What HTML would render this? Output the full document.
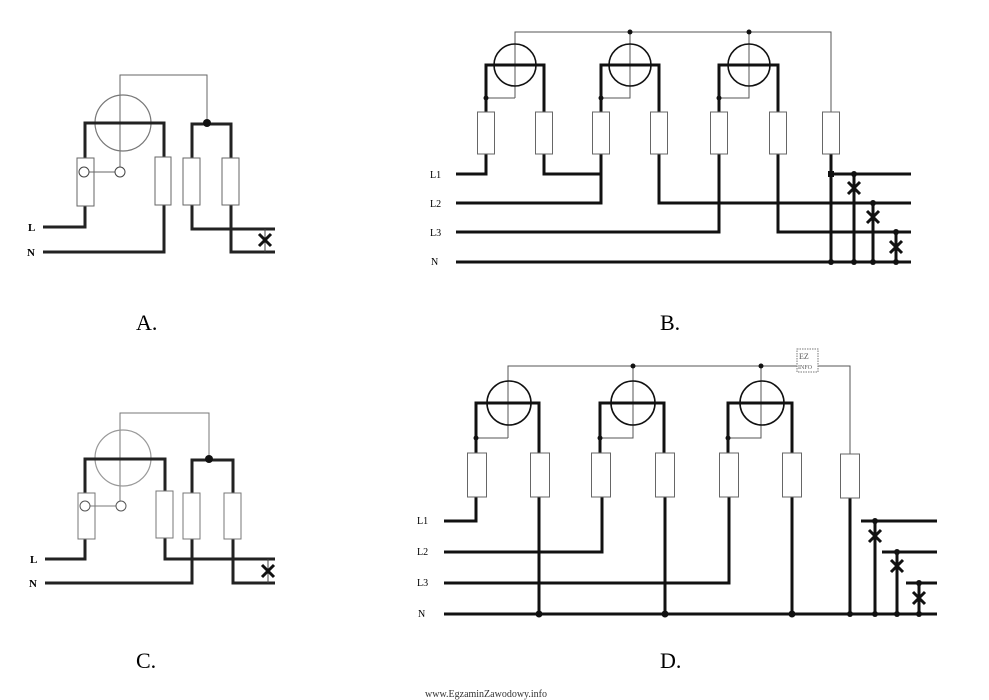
<!DOCTYPE html>
<html><head><meta charset="utf-8"><style>
html,body{margin:0;padding:0;background:#fff}
svg{display:block}
text{font-family:"Liberation Serif",serif}
</style></head><body>
<svg width="989" height="700" viewBox="0 0 989 700" xmlns="http://www.w3.org/2000/svg">
<defs>
<g id="x"><path d="M-6,-6 L6,6 M6,-6 L-6,6" stroke="#111" stroke-width="3"/></g>
</defs>
<!-- A -->
<g fill="none">
<polyline points="120,167 120,75 207,75 207,123" stroke="#666" stroke-width="1"/>
<circle cx="123" cy="123" r="28" stroke="#777" stroke-width="1.2"/>
<path d="M43,227 H85 V206 M85,158 V123 H164 V157 M164,205 V252 H43 M192,158 V124 H231 V158 M192,205 V229 H275 M231,205 V252 H275" stroke="#222" stroke-width="3"/>
<g stroke="#666" stroke-width="1" fill="#fff">
<rect x="77" y="158" width="17" height="48"/><rect x="155" y="157" width="16" height="48"/>
<rect x="183" y="158" width="17" height="47"/><rect x="222" y="158" width="17" height="47"/>
</g>
<line x1="89" y1="172" x2="115" y2="172" stroke="#666"/>
<circle cx="84" cy="172" r="5" stroke="#444" fill="#fff"/><circle cx="120" cy="172" r="5" stroke="#444" fill="#fff"/>
<line x1="265" y1="229" x2="265" y2="252" stroke="#444"/>
</g>
<circle cx="207" cy="123" r="4" fill="#111"/>
<use href="#x" x="265" y="240"/>
<text x="28" y="231" font-size="11" font-weight="bold">L</text>
<text x="27" y="256" font-size="11" font-weight="bold">N</text>
<!-- C -->
<g fill="none">
<polyline points="120,506 120,413 209,413 209,459" stroke="#777" stroke-width="1"/>
<circle cx="123" cy="458" r="28" stroke="#999" stroke-width="1.2"/>
<path d="M45,559 H85 V539 M85,493 V459 H165 V491 M165,538 V559 H275 M192,493 V460 H233 V493 M192,539 V583 H45 M233,539 V583 H275" stroke="#222" stroke-width="3"/>
<g stroke="#777" stroke-width="1" fill="#fff">
<rect x="78" y="493" width="17" height="46"/><rect x="156" y="491" width="17" height="47"/>
<rect x="183" y="493" width="17" height="46"/><rect x="224" y="493" width="17" height="46"/>
</g>
<line x1="90" y1="506" x2="116" y2="506" stroke="#777"/>
<circle cx="85" cy="506" r="5" stroke="#555" fill="#fff"/><circle cx="121" cy="506" r="5" stroke="#555" fill="#fff"/>
<line x1="268" y1="559" x2="268" y2="583" stroke="#444"/>
</g>
<circle cx="209" cy="459" r="4" fill="#111"/>
<use href="#x" x="268" y="571"/>
<text x="30" y="563" font-size="11" font-weight="bold">L</text>
<text x="29" y="587" font-size="11" font-weight="bold">N</text>
<!-- B -->
<g fill="none">
<path d="M515,98 V32 H831 V112 M630,32 V98 H601 M749,32 V98 H719 M515,98 H486" stroke="#555" stroke-width="1"/>
<g stroke="#111" stroke-width="1.6"><circle cx="515" cy="65" r="21"/><circle cx="630" cy="65" r="21"/><circle cx="749" cy="65" r="21"/></g>
<path d="M486,112 V65 H544 V112 M601,112 V65 H659 V112 M719,112 V65 H778 V112 M456,174 H486 V154 M544,154 V174 H601 M601,154 V203 H456 M659,154 V203 H911 M719,154 V232 H456 M778,154 V232 H911 M831,154 V262 M831,174 H911 M456,262 H911 M854,174 V262 M873,203 V262 M896,232 V262" stroke="#111" stroke-width="3"/>
<g stroke="#666" stroke-width="1" fill="#fff">
<rect x="477.5" y="112" width="17" height="42"/><rect x="535.5" y="112" width="17" height="42"/>
<rect x="592.5" y="112" width="17" height="42"/><rect x="650.5" y="112" width="17" height="42"/>
<rect x="710.5" y="112" width="17" height="42"/><rect x="769.5" y="112" width="17" height="42"/>
<rect x="822.5" y="112" width="17" height="42"/>
</g>
</g>
<g fill="#111">
<circle cx="486" cy="98" r="2.5"/><circle cx="601" cy="98" r="2.5"/><circle cx="719" cy="98" r="2.5"/>
<circle cx="630" cy="32" r="2.5"/><circle cx="749" cy="32" r="2.5"/>
<rect x="828" y="171" width="6" height="6"/>
<circle cx="854" cy="174" r="3"/><circle cx="873" cy="203" r="3"/><circle cx="896" cy="232" r="3"/>
<circle cx="831" cy="262" r="3"/><circle cx="854" cy="262" r="3"/><circle cx="873" cy="262" r="3"/><circle cx="896" cy="262" r="3"/>
</g>
<use href="#x" x="854" y="188"/><use href="#x" x="873" y="217"/><use href="#x" x="896" y="247"/>
<g font-size="10"><text x="430" y="178">L1</text><text x="430" y="207">L2</text><text x="430" y="236">L3</text><text x="431" y="265">N</text></g>
<!-- D -->
<g fill="none">
<path d="M508,438 V366 H850 V454 M633,366 V438 H600 M761,366 V438 H728 M508,438 H476" stroke="#555" stroke-width="1"/>
<g stroke="#111" stroke-width="1.6"><circle cx="509" cy="403" r="22"/><circle cx="633" cy="403" r="22"/><circle cx="762" cy="403" r="22"/></g>
<path d="M476,453 V403 H539 V453 M600,453 V403 H664 V453 M728,453 V403 H792 V453 M444,521 H476 V497 M539,497 V614 M602,497 V552 H444 M665,497 V614 M729,497 V583 H444 M792,497 V614 M850,498 V614 M444,614 H937 M861,521 H937 M882,552 H937 M906,583 H937 M875,521 V614 M897,552 V614 M919,583 V614" stroke="#111" stroke-width="3"/>
<g stroke="#666" stroke-width="1" fill="#fff">
<rect x="467.5" y="453" width="19" height="44"/><rect x="530.5" y="453" width="19" height="44"/>
<rect x="591.5" y="453" width="19" height="44"/><rect x="655.5" y="453" width="19" height="44"/>
<rect x="719.5" y="453" width="19" height="44"/><rect x="782.5" y="453" width="19" height="44"/>
<rect x="840.5" y="454" width="19" height="44"/>
</g>
<rect x="797" y="349" width="21" height="23" stroke="#777" stroke-width="1" stroke-dasharray="1.5,1" fill="#fff"/>
</g>
<text x="799" y="359" font-size="8" font-family="Liberation Sans" fill="#555">EZ</text>
<text x="798" y="369" font-size="6" font-family="Liberation Sans" fill="#555">INFO</text>
<g fill="#111">
<circle cx="476" cy="438" r="2.5"/><circle cx="600" cy="438" r="2.5"/><circle cx="728" cy="438" r="2.5"/>
<circle cx="633" cy="366" r="2.5"/><circle cx="761" cy="366" r="2.5"/>
<circle cx="875" cy="521" r="3"/><circle cx="897" cy="552" r="3"/><circle cx="919" cy="583" r="3"/>
<circle cx="539" cy="614" r="3.5"/><circle cx="665" cy="614" r="3.5"/><circle cx="792" cy="614" r="3.5"/><circle cx="850" cy="614" r="3"/><circle cx="875" cy="614" r="3"/><circle cx="897" cy="614" r="3"/><circle cx="919" cy="614" r="3"/>
</g>
<use href="#x" x="875" y="536"/><use href="#x" x="897" y="566"/><use href="#x" x="919" y="598"/>
<g font-size="10"><text x="417" y="524">L1</text><text x="417" y="555">L2</text><text x="417" y="586">L3</text><text x="418" y="617">N</text></g>
<!-- captions -->
<g font-size="22"><text x="136" y="330">A.</text><text x="660" y="330">B.</text><text x="136" y="668">C.</text><text x="660" y="668">D.</text></g>
<text x="425" y="697" font-size="10" fill="#333">www.EgzaminZawodowy.info</text>
</svg>
</body></html>
